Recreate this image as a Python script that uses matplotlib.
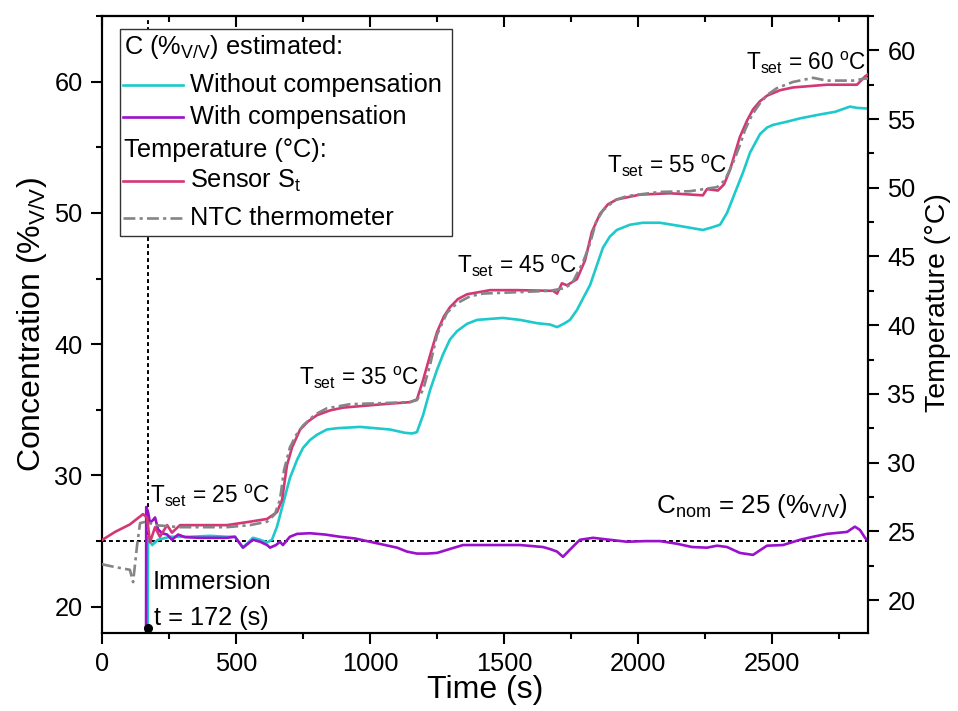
import matplotlib
matplotlib.use("Agg")
import matplotlib.pyplot as plt
from matplotlib.ticker import MultipleLocator
from matplotlib.lines import Line2D
from matplotlib.patches import Rectangle

plt.rcParams['font.family'] = ['Liberation Sans', 'DejaVu Sans']
plt.rcParams['mathtext.fontset'] = 'custom'
plt.rcParams['mathtext.rm'] = 'Liberation Sans'
plt.rcParams['mathtext.it'] = 'Liberation Sans:italic'
plt.rcParams['axes.linewidth'] = 1.5

# ---------------- data ----------------
# Temperature measured by sensor S_t (deg C, right axis)
t_sensor = [0, 48, 104, 153, 168, 179, 198, 216, 243, 261, 291, 366, 466, 552, 616, 653, 672, 690,
            709, 739, 769, 802, 851, 899, 1048, 1149, 1175, 1198, 1224, 1250, 1276, 1298, 1328,
            1362, 1448, 1548, 1683, 1698, 1716, 1735, 1772, 1802, 1828, 1858, 1888, 1921, 2007,
            2119, 2242, 2257, 2298, 2321, 2343, 2380, 2407, 2429, 2455, 2481, 2530, 2578, 2705,
            2817, 2847, 2858]
T_sensor = [24.36, 24.95, 25.5, 26.25, 26.0, 24.2, 25.3, 24.6, 25.45, 24.9, 25.45, 25.45, 25.45,
            25.7, 25.9, 26.4, 27.3, 29.8, 31.1, 32.4, 33.0, 33.45, 33.8, 34.0, 34.25, 34.4, 34.6,
            36.0, 37.8, 39.5, 40.65, 41.3, 41.9, 42.25, 42.55, 42.55, 42.5, 42.3, 43.05, 42.9,
            43.35, 44.7, 46.8, 48.1, 48.8, 49.15, 49.5, 49.6, 49.45, 49.9, 49.8, 50.25, 51.3,
            53.7, 54.9, 55.7, 56.3, 56.7, 57.1, 57.3, 57.5, 57.5, 58.1, 58.25]

# Temperature measured by NTC thermometer (deg C, right axis)
t_ntc = [0, 48, 104, 116, 131, 142, 164, 198, 291, 466, 552, 616, 645, 664, 679, 701, 724, 750,
         795, 839, 925, 1149, 1175, 1198, 1224, 1250, 1287, 1325, 1373, 1421, 1548, 1671, 1727,
         1754, 1795, 1821, 1843, 1869, 1914, 1959, 2082, 2194, 2295, 2324, 2354, 2380, 2399,
         2425, 2455, 2485, 2518, 2578, 2653, 2705, 2802, 2847, 2858]
T_ntc = [22.6, 22.4, 22.2, 21.3, 24.0, 25.6, 25.7, 25.45, 25.3, 25.3, 25.45, 25.7, 26.25, 27.3,
         29.45, 31.1, 32.0, 32.7, 33.5, 33.95, 34.25, 34.4, 34.55, 35.3, 37.1, 39.3, 40.9, 41.6,
         42.1, 42.3, 42.4, 42.5, 42.7, 43.05, 44.6, 45.95, 47.5, 48.35, 49.1, 49.4, 49.7, 49.75,
         50.05, 50.55, 51.8, 53.1, 54.2, 55.3, 56.15, 56.8, 57.25, 57.7, 58.0, 57.8, 57.8,
         57.95, 57.95]

# Concentration estimated without compensation (%V/V, left axis)
t_nocomp = [168, 172, 187, 209, 254, 328, 403, 466, 496, 526, 563, 590, 616, 634, 653, 675, 701,
            728, 750, 776, 802, 839, 877, 963, 1075, 1130, 1157, 1175, 1198, 1224, 1250, 1272,
            1298, 1325, 1362, 1399, 1496, 1560, 1623, 1671, 1698, 1727, 1746, 1772, 1795, 1821,
            1847, 1869, 1895, 1921, 1970, 2018, 2082, 2157, 2242, 2276, 2306, 2332, 2362, 2392,
            2418, 2455, 2481, 2503, 2556, 2604, 2679, 2735, 2791, 2817, 2858]
C_nocomp = [10.0, 25.33, 24.7, 25.1, 25.33, 25.33, 25.4, 25.33, 25.33, 24.5, 25.25, 25.1, 24.9,
            25.1, 26.1, 27.8, 29.8, 31.2, 32.1, 32.7, 33.1, 33.5, 33.6, 33.7, 33.5, 33.25, 33.2,
            33.3, 34.6, 36.5, 38.05, 39.2, 40.35, 41.0, 41.55, 41.85, 42.0, 41.85, 41.6, 41.5,
            41.3, 41.6, 41.85, 42.6, 43.5, 44.5, 46.05, 47.35, 48.2, 48.7, 49.1, 49.25, 49.25,
            49.0, 48.7, 48.9, 49.1, 50.0, 51.55, 53.1, 54.6, 56.0, 56.5, 56.7, 56.95, 57.2, 57.5,
            57.7, 58.1, 58.0, 57.95]

# Concentration estimated with compensation (%V/V, left axis)
t_comp = [164, 165, 172, 179, 190, 198, 209, 224, 243, 261, 284, 310, 366, 466, 496, 526, 563,
          590, 616, 627, 649, 664, 675, 701, 728, 776, 832, 888, 944, 1000, 1056, 1101, 1138,
          1175, 1213, 1250, 1298, 1347, 1410, 1474, 1560, 1645, 1671, 1698, 1720, 1746, 1783,
          1832, 1895, 1959, 2026, 2082, 2145, 2201, 2257, 2295, 2332, 2380, 2429, 2481, 2541,
          2604, 2653, 2705, 2780, 2809, 2828, 2847, 2858]
C_comp = [10.0, 27.6, 27.2, 26.4, 26.6, 26.8, 25.9, 25.6, 25.5, 25.1, 25.5, 25.3, 25.25, 25.25,
          25.33, 24.5, 25.1, 24.95, 24.7, 24.5, 24.7, 24.95, 24.7, 25.33, 25.55, 25.6, 25.5,
          25.33, 25.2, 24.95, 24.7, 24.5, 24.2, 24.05, 24.05, 24.1, 24.4, 24.7, 24.7, 24.7,
          24.7, 24.55, 24.4, 24.2, 23.8, 24.35, 25.1, 25.25, 25.1, 24.95, 25.0, 25.0, 24.8,
          24.55, 24.5, 24.65, 24.55, 24.1, 23.95, 24.65, 24.7, 25.1, 25.33, 25.55, 25.7, 26.1,
          25.85, 25.25, 25.0]

C_nom = 25
t_immersion = 172
C_marker = 18.4

tset_labels = ['25', '35', '45', '55', '60']
tset_t = [179, 735, 1325, 1884, 2403]
tset_C = [27.9, 36.9, 45.45, 53.0, 60.9]

# ---------------- colours ----------------
c_cyan = '#1DC9CB'
c_purple = '#9A10CC'
c_pink = '#D33775'
c_gray = '#858585'
FS = 18.3
FT = 16.3
FL = 23

fig = plt.figure(figsize=(9.58, 7.11), dpi=100)
ax = fig.add_axes([102/958, 1-633/711, 766/958, 617/711])
ax2 = ax.twinx()

ax.plot(t_nocomp, C_nocomp, color=c_cyan, lw=1.9, zorder=3)
ax.plot(t_comp, C_comp, color=c_purple, lw=1.9, zorder=4)
ax.axhline(C_nom, color='black', lw=1.4, ls=(0, (2, 1.6)), zorder=2)
ax.axvline(t_immersion, color='black', lw=1.4, ls=(0, (2, 1.6)), zorder=2)
ax.plot([t_immersion], [C_marker], 'o', color='black', ms=5.5, zorder=6, clip_on=False)

ax2.plot(t_sensor, T_sensor, color=c_pink, lw=1.9, zorder=3)
ax2.plot(t_ntc, T_ntc, color=c_gray, lw=1.9, ls=(0, (4.5, 1.6, 1.2, 1.6)), zorder=4)

ax.set_xlim(0, 2858)
ax.set_ylim(18.0, 65.0)
ax2.set_ylim(17.6, 62.5)

ax.xaxis.set_major_locator(MultipleLocator(500))
ax.xaxis.set_minor_locator(MultipleLocator(250))
ax.yaxis.set_major_locator(MultipleLocator(10))
ax.yaxis.set_minor_locator(MultipleLocator(5))
ax2.yaxis.set_major_locator(MultipleLocator(5))
ax2.yaxis.set_minor_locator(MultipleLocator(2.5))

ax.tick_params(axis='both', which='major', direction='out', length=8, width=1.5, labelsize=FS)
ax.tick_params(axis='both', which='minor', direction='out', length=4, width=1.5)
ax.tick_params(axis='x', pad=6)
ax.tick_params(axis='y', pad=6)
ax2.tick_params(axis='y', which='major', direction='out', length=8, width=1.5, labelsize=FS, pad=6)
ax2.tick_params(axis='y', which='minor', direction='out', length=4, width=1.5)

sec = ax.secondary_xaxis('top')
sec.xaxis.set_major_locator(MultipleLocator(500))
sec.xaxis.set_minor_locator(MultipleLocator(250))
sec.tick_params(which='major', direction='in', length=8, width=1.5, labeltop=False)
sec.tick_params(which='minor', direction='in', length=4, width=1.5)
sec.spines['top'].set_linewidth(1.5)

ax.set_xlabel('Time (s)', fontsize=FL, labelpad=-1)
ax.set_ylabel(r'Concentration (%$_{\rm V/V}$)', fontsize=FL, labelpad=4)
ax2.set_ylabel('Temperature (°C)', fontsize=20.5)
ax2.yaxis.set_label_coords(1.0745, 0.535)

# annotations
for lab, tx, cy in zip(tset_labels, tset_t, tset_C):
    ax.text(tx, cy, r'T$_{\rm set}$ = ' + lab + r' $^{\rm o}$C', fontsize=FT,
            ha='left', va='baseline', zorder=7)
ax.text(2067, 27.16, r'C$_{\rm nom}$ = 25 (%$_{\rm V/V}$)', fontsize=FS + 0.4, ha='left',
        va='baseline')
ax.text(190, 21.37, 'Immersion', fontsize=FS, ha='left', va='baseline')
ax.text(194, 18.63, 't = 172 (s)', fontsize=FS, ha='left', va='baseline')

# legend (drawn manually to allow header rows)
tr = ax2.transAxes
box = Rectangle((0.0235, 0.6434), 0.4334, 0.3355, transform=tr, facecolor='white',
                edgecolor='#333333', lw=1.0, zorder=20)
ax2.add_patch(box)
hx0, hx1, tx = 0.0274, 0.1057, 0.1149
rows = [
    (0.9498, None, None, r'C (%$_{\rm V/V}$) estimated:'),
    (0.8880, c_cyan, '-', 'Without compensation'),
    (0.8363, c_purple, '-', 'With compensation'),
    (0.7828, None, None, 'Temperature (°C):'),
    (0.7326, c_pink, '-', r'Sensor S$_{\rm t}$'),
    (0.6726, c_gray, (0, (4.5, 1.6, 1.2, 1.6)), 'NTC thermometer'),
]
for y, col, ls, lab in rows:
    if col is None:
        ax2.text(0.029, y, lab, transform=tr, fontsize=FS, ha='left', va='center', zorder=22)
    else:
        ax2.add_line(Line2D([hx0, hx1], [y, y], transform=tr, color=col, lw=1.9, ls=ls, zorder=21))
        ax2.text(tx, y, lab, transform=tr, fontsize=FS, ha='left', va='center', zorder=22)

fig.savefig('out.png', dpi=100)
